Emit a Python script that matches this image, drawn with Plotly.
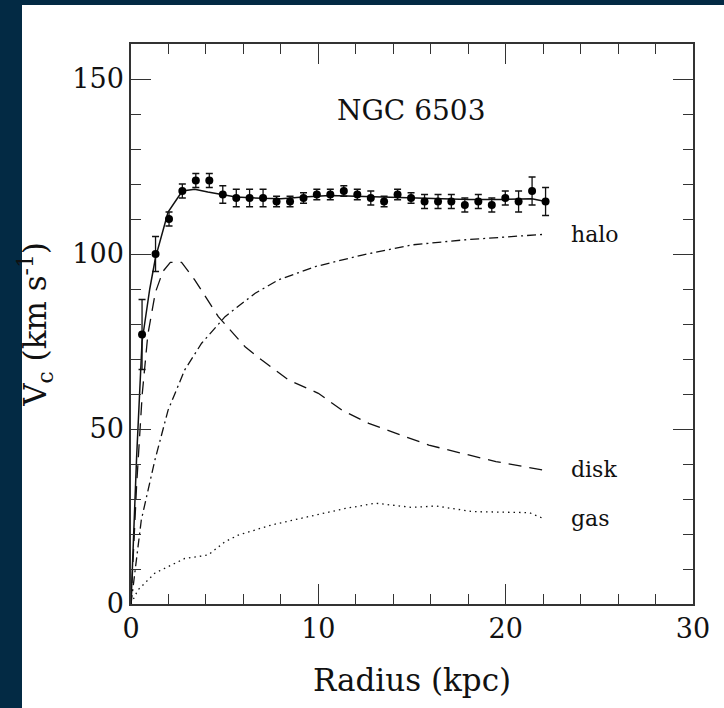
import plotly.graph_objects as go

# Observed rotation curve data (NGC 6503)
radius_obs = [0.59, 1.31, 2.03, 2.74, 3.46, 4.18, 4.90, 5.62, 6.33, 7.05, 7.77, 8.49,
              9.21, 9.92, 10.64, 11.36, 12.08, 12.80, 13.51, 14.23, 14.95, 15.67, 16.39,
              17.10, 17.82, 18.54, 19.26, 19.98, 20.69, 21.41, 22.13]
vel_obs = [77, 100, 110, 118, 121, 121, 117, 116, 116, 116, 115, 115,
           116, 117, 117, 118, 117, 116, 115, 117, 116, 115, 115,
           115, 114, 115, 114, 116, 115, 118, 115]
vel_err = [10, 5, 2, 2, 2, 2, 2.5, 2.5, 2.5, 2.5, 1.5, 1.5,
           1.5, 1.5, 1.5, 1.5, 1.5, 2, 1.5, 1.5, 1.5, 2, 2,
           2, 2, 2, 2, 2, 3, 4, 4]

# Total model fit (solid)
fit_r = [0, 0.3, 0.59, 1.0, 1.31, 1.98, 2.74, 3.4, 4.1, 4.9, 5.6, 7.0, 8.0,
         9.2, 10.6, 12.0, 14.0, 16.0, 18.0, 20.0, 21.4, 22.13]
fit_v = [0, 42, 75, 90, 99, 112, 118, 118.5, 117.7, 117, 116.3, 115.9, 115.8,
         116.3, 116.7, 116.5, 116.2, 115.8, 115.6, 115.6, 115.8, 115]

# Disk component (dashed)
disk_r = [0, 0.3, 0.6, 0.9, 1.3, 1.7, 2.1, 2.7, 3.4, 4.66, 6.09, 6.98, 8.41,
          10.0, 11.26, 12.69, 14.12, 15.9, 17.7, 19.48, 21.98]
disk_v = [0, 34, 60, 77, 89, 95, 97.6, 97.6, 92.6, 82.1, 73.5, 69.7, 64,
          60.2, 55.4, 51.6, 48.8, 45.4, 43, 40.7, 38.3]

# Halo component (dash-dot)
halo_r = [0, 0.55, 1.27, 1.98, 2.87, 3.77, 5.02, 6.63, 7.87, 9.84, 12.34,
          15.0, 17.7, 22.0]
halo_v = [0, 24, 41, 55.4, 66.9, 74.5, 82.1, 88.8, 92.6, 96.4, 99.7,
          102.6, 104, 105.6]

# Gas component (dotted)
gas_r = [0, 0.37, 1.27, 2.16, 2.87, 4.12, 5.02, 5.73, 7.52, 9.84, 11.45,
         13.05, 15.0, 16.27, 18.23, 21.26, 21.98]
gas_v = [0, 4, 8.8, 11.1, 13, 14, 17.8, 19.7, 22.6, 25.4, 27.3,
         28.8, 27.6, 28, 26.4, 26.1, 24.5]

x_ticks = [0, 10, 20, 30]
y_ticks = [0, 50, 100, 150]

FONT = "DejaVu Serif"
INK = "#111111"
NAVY = "#032a44"

W, H = 724, 708
ML, MR, MT, MB = 131, 31, 44, 104
PW, PH = W - ML - MR, H - MT - MB

fig = go.Figure()

fig.add_trace(go.Scatter(x=disk_r, y=disk_v, mode="lines",
                         line=dict(color=INK, width=1.3, dash="13px,8px")))
fig.add_trace(go.Scatter(x=halo_r, y=halo_v, mode="lines",
                         line=dict(color=INK, width=1.3, dash="9px,4px,2px,4px")))
fig.add_trace(go.Scatter(x=gas_r, y=gas_v, mode="lines",
                         line=dict(color=INK, width=1.3, dash="1.5px,4px")))
fig.add_trace(go.Scatter(x=fit_r, y=fit_v, mode="lines",
                         line=dict(color=INK, width=1.5)))
fig.add_trace(go.Scatter(x=radius_obs, y=vel_obs, mode="markers",
                         marker=dict(color="black", size=8),
                         error_y=dict(type="data", array=vel_err, visible=True,
                                      color=INK, thickness=1.3, width=3.5)))

# dark frame strips on left and top (kept inside the figure bounds)
fig.add_shape(type="rect", xref="paper", yref="paper",
              x0=-ML / PW, x1=(22 - ML) / PW,
              y0=-MB / PH, y1=1 + MT / PH,
              fillcolor=NAVY, line=dict(width=0), layer="below")
fig.add_shape(type="rect", xref="paper", yref="paper",
              x0=-ML / PW, x1=(W - ML) / PW,
              y0=1 + (MT - 5) / PH, y1=1 + MT / PH,
              fillcolor=NAVY, line=dict(width=0), layer="below")

ann_font = dict(family=FONT, size=22, color=INK)
fig.add_annotation(x=23.4, y=105.5, text="halo", showarrow=False,
                   xanchor="left", yanchor="middle", font=ann_font)
fig.add_annotation(x=23.4, y=38.5, text="disk", showarrow=False,
                   xanchor="left", yanchor="middle", font=ann_font)
fig.add_annotation(x=23.4, y=24.5, text="gas", showarrow=False,
                   xanchor="left", yanchor="middle", font=ann_font)
fig.add_annotation(x=10.9, y=141, text="NGC 6503", showarrow=False,
                   xanchor="left", yanchor="middle",
                   font=dict(family=FONT, size=28, color=INK))

axis_common = dict(
    showgrid=False, zeroline=False, showline=True, linecolor="#333333", linewidth=1.5,
    mirror="ticks", ticks="inside", ticklen=20, tickwidth=1.2, tickcolor="#333333",
    tickfont=dict(family=FONT, size=27, color=INK),
)

fig.update_xaxes(range=[0, 30], tickvals=x_ticks, ticktext=[str(v) for v in x_ticks],
                 minor=dict(dtick=2, ticks="inside", ticklen=10, tickwidth=1.2,
                            tickcolor="#333333", showgrid=False),
                 title=dict(text="Radius (kpc)", font=dict(family=FONT, size=31, color=INK),
                            standoff=26),
                 **axis_common)
fig.update_yaxes(range=[0, 160], tickvals=y_ticks, ticktext=[str(v) for v in y_ticks],
                 minor=dict(dtick=10, ticks="inside", ticklen=10, tickwidth=1.2,
                            tickcolor="#333333", showgrid=False),
                 title=dict(text="V<sub>c</sub> (km s<sup>-1</sup>)",
                            font=dict(family=FONT, size=31, color=INK), standoff=16),
                 **axis_common)

fig.update_layout(
    width=W, height=H,
    margin=dict(l=ML, r=MR, t=MT, b=MB),
    paper_bgcolor="white", plot_bgcolor="white",
    showlegend=False,
)

fig.write_html("out.html")
